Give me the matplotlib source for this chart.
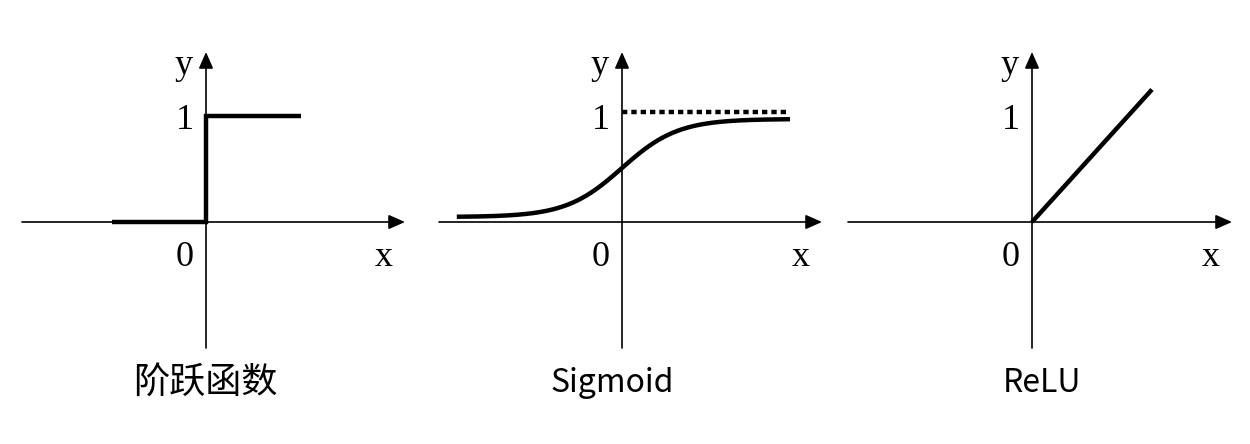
import numpy as np
import matplotlib
matplotlib.use("Agg")
import matplotlib.pyplot as plt

# data
step_x = [-0.89, 0, 0, 0.9]
step_y = [0, 0, 1, 1]

# sigmoid as drawn in the figure: squashed a little between 0.047 and 0.97
sig_x = np.linspace(-5.9, 6.0, 300)
sig_y = 0.047 + 0.925 / (1 + np.exp(-sig_x))
sig_limit_x = [0, 6.0]
sig_limit_y = [1.04, 1.04]

relu_x = [0, 1.25]
relu_y = [0, 1.25]

titles = ["阶跃函数", "Sigmoid", "ReLU"]
title_sizes = [26, 23, 23]

W, H = 1250, 444
fig = plt.figure(figsize=(W / 100, H / 100), dpi=100)

serif = "Liberation Serif"
sans = ["Noto Sans CJK SC", "DejaVu Sans"]

# panel layout in pixels: box left/right, origin x, x scale, axis start/end px
panels = [
    dict(box=(0, 415), ox=206, sx=106, ax0=22, ax1=405),
    dict(box=(420, 835), ox=622, sx=28, ax0=439, ax1=822),
    dict(box=(840, 1250), ox=1032, sx=96, ax0=848, ax1=1232),
]
oy, sy = 222, 106
ytop, ybot = 52, 348

axes = []
for p in panels:
    l, r = p["box"]
    ax = fig.add_axes([l / W, 0, (r - l) / W, 1])
    ax.set_xlim((l - p["ox"]) / p["sx"], (r - p["ox"]) / p["sx"])
    ax.set_ylim((oy - H) / sy, oy / sy)
    ax.axis("off")
    xa0 = (p["ax0"] - p["ox"]) / p["sx"]
    xa1 = (p["ax1"] - p["ox"]) / p["sx"]
    arrow = dict(arrowstyle="-|>,head_length=0.5,head_width=0.22",
                 lw=1.2, color="black", mutation_scale=20, shrinkA=0, shrinkB=0)
    ax.annotate("", xy=(xa1, 0), xytext=(xa0, 0), arrowprops=arrow)
    ax.annotate("", xy=(0, (oy - ytop) / sy), xytext=(0, (oy - ybot) / sy),
                arrowprops=arrow)
    # tick labels and axis names, offsets in pixels
    def txt(dx, dy, s):
        ax.text(dx / p["sx"], dy / sy, s, family=serif, fontsize=26,
                ha="center", va="center")
    txt(-21, -36, "0")
    txt(-21, 102, "1")
    txt(p["ax1"] - p["ox"] - 21, -35, "x")
    txt(-22, 157, "y")
    axes.append(ax)

a1, a2, a3 = axes
a1.plot(step_x, step_y, color="black", lw=3.2, solid_joinstyle="miter",
        solid_capstyle="butt")
a2.plot(sig_x, sig_y, color="black", lw=3.2, solid_capstyle="butt")
a2.plot(sig_limit_x, sig_limit_y, color="black", lw=3.2,
        linestyle=(0, (1.2, 0.9)))
a3.plot(relu_x, relu_y, color="black", lw=3.2, solid_capstyle="butt")

title_pos = [205, 612, 1042]
for xp, t, fs in zip(title_pos, titles, title_sizes):
    fig.text(xp / W, 1 - 383 / H, t, family=sans, fontsize=fs,
             fontweight="light", ha="center", va="center")

fig.savefig("out.png", dpi=100, facecolor="white")
